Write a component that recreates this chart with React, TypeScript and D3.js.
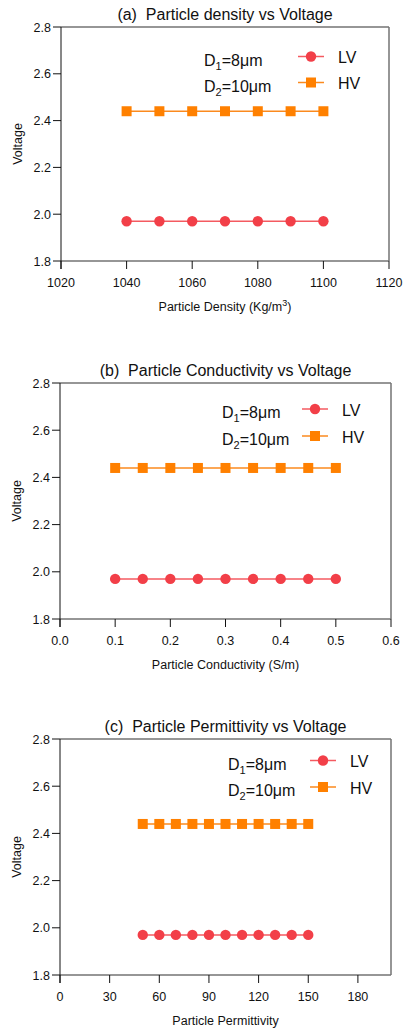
import React from "react";
import * as d3 from "d3";

const densityX = [1040, 1050, 1060, 1070, 1080, 1090, 1100];
const densityLV = [1.97, 1.97, 1.97, 1.97, 1.97, 1.97, 1.97];
const densityHV = [2.44, 2.44, 2.44, 2.44, 2.44, 2.44, 2.44];

const condX = [0.1, 0.15, 0.2, 0.25, 0.3, 0.35, 0.4, 0.45, 0.5];
const condLV = [1.97, 1.97, 1.97, 1.97, 1.97, 1.97, 1.97, 1.97, 1.97];
const condHV = [2.44, 2.44, 2.44, 2.44, 2.44, 2.44, 2.44, 2.44, 2.44];

const permX = [50, 60, 70, 80, 90, 100, 110, 120, 130, 140, 150];
const permLV = [1.97, 1.97, 1.97, 1.97, 1.97, 1.97, 1.97, 1.97, 1.97, 1.97, 1.97];
const permHV = [2.44, 2.44, 2.44, 2.44, 2.44, 2.44, 2.44, 2.44, 2.44, 2.44, 2.44];

const yTicks = [1.8, 2.0, 2.2, 2.4, 2.6, 2.8];
const densityTicks = [1020, 1040, 1060, 1080, 1100, 1120];
const condTicks = [0, 0.1, 0.2, 0.3, 0.4, 0.5, 0.6];
const permTicks = [0, 30, 60, 90, 120, 150, 180];

const LV_COLOR = "#f23f48";
const LV_LINE = "#f45a60";
const HV_COLOR = "#ff8000";
const HV_LINE = "#fb8a1e";
const FRAME = "#737373";
const TICK = "#111";
const FONT = "Liberation Sans, Arial, Helvetica, sans-serif";

type PanelProps = {
  plotTop: number;
  plotBottom: number;
  left: number;
  right: number;
  title: string;
  xDomain: [number, number];
  xTicks: number[];
  xFmt: (v: number) => string;
  xLabel: React.ReactNode;
  xs: number[];
  lv: number[];
  hv: number[];
  legendTextX: number;
  legendMarkX: number;
  legendY1: number;
  legendY2: number;
};

function Panel(p: PanelProps) {
  const x = d3.scaleLinear().domain(p.xDomain).range([p.left, p.right]);
  const y = d3.scaleLinear().domain([1.8, 2.8]).range([p.plotBottom, p.plotTop]);
  const line = d3
    .line<[number, number]>()
    .x((d) => x(d[0]))
    .y((d) => y(d[1]));
  const lvPts = p.xs.map((v, i) => [v, p.lv[i]] as [number, number]);
  const hvPts = p.xs.map((v, i) => [v, p.hv[i]] as [number, number]);
  const cx = (p.left + p.right) / 2;
  const sq = 10;
  return (
    <g>
      <text x={cx} y={p.plotTop - 7.5} textAnchor="middle" fontSize={16} fill="#111" xmlSpace="preserve">
        {p.title}
      </text>
      {/* frame */}
      <line x1={p.left} x2={p.right} y1={p.plotTop} y2={p.plotTop} stroke={FRAME} strokeWidth={1.5} />
      <line x1={p.right} x2={p.right} y1={p.plotTop} y2={p.plotBottom} stroke={FRAME} strokeWidth={1.5} />
      <line x1={p.left} x2={p.right} y1={p.plotBottom} y2={p.plotBottom} stroke={FRAME} strokeWidth={1.5} />
      <line x1={p.left} x2={p.left} y1={p.plotTop} y2={p.plotBottom + 8} stroke={TICK} strokeWidth={1} />
      {yTicks.map((t) => (
        <g key={"y" + t}>
          <line x1={p.left - 8} x2={p.left} y1={y(t)} y2={y(t)} stroke={TICK} strokeWidth={1} />
          <text x={p.left - 10} y={y(t) + 4.5} textAnchor="end" fontSize={12.5} fill="#111">
            {t.toFixed(1)}
          </text>
        </g>
      ))}
      {p.xTicks.map((t) => (
        <g key={"x" + t}>
          <line x1={x(t)} x2={x(t)} y1={p.plotBottom} y2={p.plotBottom + 8} stroke={TICK} strokeWidth={1} />
          <text x={x(t)} y={p.plotBottom + 25.5} textAnchor="middle" fontSize={12.5} fill="#111">
            {p.xFmt(t)}
          </text>
        </g>
      ))}
      <text
        transform={`translate(${p.left - 39},${(p.plotTop + p.plotBottom) / 2}) rotate(-90)`}
        textAnchor="middle"
        fontSize={12.5}
        fill="#111"
      >
        Voltage
      </text>
      <text x={cx} y={p.plotBottom + 50} textAnchor="middle" fontSize={12.5} fill="#111">
        {p.xLabel}
      </text>
      {/* series */}
      <path d={line(hvPts) || ""} fill="none" stroke={HV_LINE} strokeWidth={1.5} />
      <path d={line(lvPts) || ""} fill="none" stroke={LV_LINE} strokeWidth={1.5} />
      {hvPts.map((d, i) => (
        <rect key={"h" + i} x={x(d[0]) - sq / 2} y={y(d[1]) - sq / 2} width={sq} height={sq} fill={HV_COLOR} />
      ))}
      {lvPts.map((d, i) => (
        <circle key={"l" + i} cx={x(d[0])} cy={y(d[1])} r={5.2} fill={LV_COLOR} />
      ))}
      {/* legend */}
      <text x={p.legendTextX} y={p.legendY1 + 9} fontSize={16} fill="#111">
        D<tspan fontSize={11} dy={4}>1</tspan>
        <tspan dy={-4}>=8μm</tspan>
      </text>
      <text x={p.legendTextX} y={p.legendY2 + 9} fontSize={16} fill="#111">
        D<tspan fontSize={11} dy={4}>2</tspan>
        <tspan dy={-4}>=10μm</tspan>
      </text>
      <line x1={p.legendMarkX - 13} x2={p.legendMarkX + 13} y1={p.legendY1} y2={p.legendY1} stroke={LV_LINE} strokeWidth={1.5} />
      <circle cx={p.legendMarkX} cy={p.legendY1} r={5.2} fill={LV_COLOR} />
      <line x1={p.legendMarkX - 13} x2={p.legendMarkX + 13} y1={p.legendY2} y2={p.legendY2} stroke={HV_LINE} strokeWidth={1.5} />
      <rect x={p.legendMarkX - sq / 2} y={p.legendY2 - sq / 2} width={sq} height={sq} fill={HV_COLOR} />
      <text x={p.legendMarkX + 27} y={p.legendY1 + 6.5} fontSize={16} fill="#111">LV</text>
      <text x={p.legendMarkX + 27} y={p.legendY2 + 6.5} fontSize={16} fill="#111">HV</text>
    </g>
  );
}

export default function App() {
  return (
    <svg
      width={403}
      height={1028}
      style={{ position: "absolute", left: 0, top: 0, background: "#fff" }}
      fontFamily={FONT}
    >
      <rect width={403} height={1028} fill="#fff" />
      <Panel
        plotTop={27}
        plotBottom={261}
        left={61}
        right={389}
        title="(a)  Particle density vs Voltage"
        xDomain={[1020, 1120]}
        xTicks={densityTicks}
        xFmt={(v) => String(v)}
        xLabel={
          <>
            Particle Density (Kg/m<tspan fontSize={9} dy={-5}>3</tspan>
            <tspan dy={5}>)</tspan>
          </>
        }
        xs={densityX}
        lv={densityLV}
        hv={densityHV}
        legendTextX={204}
        legendMarkX={311}
        legendY1={56.5}
        legendY2={82.5}
      />
      <Panel
        plotTop={383}
        plotBottom={619}
        left={60}
        right={391}
        title="(b)  Particle Conductivity vs Voltage"
        xDomain={[0, 0.6]}
        xTicks={condTicks}
        xFmt={(v) => v.toFixed(1)}
        xLabel="Particle Conductivity (S/m)"
        xs={condX}
        lv={condLV}
        hv={condHV}
        legendTextX={222}
        legendMarkX={315}
        legendY1={409}
        legendY2={436}
      />
      <Panel
        plotTop={739}
        plotBottom={975}
        left={60}
        right={391}
        title="(c)  Particle Permittivity vs Voltage"
        xDomain={[0, 200]}
        xTicks={permTicks}
        xFmt={(v) => String(v)}
        xLabel="Particle Permittivity"
        xs={permX}
        lv={permLV}
        hv={permHV}
        legendTextX={228}
        legendMarkX={323}
        legendY1={760.5}
        legendY2={787}
      />
    </svg>
  );
}
